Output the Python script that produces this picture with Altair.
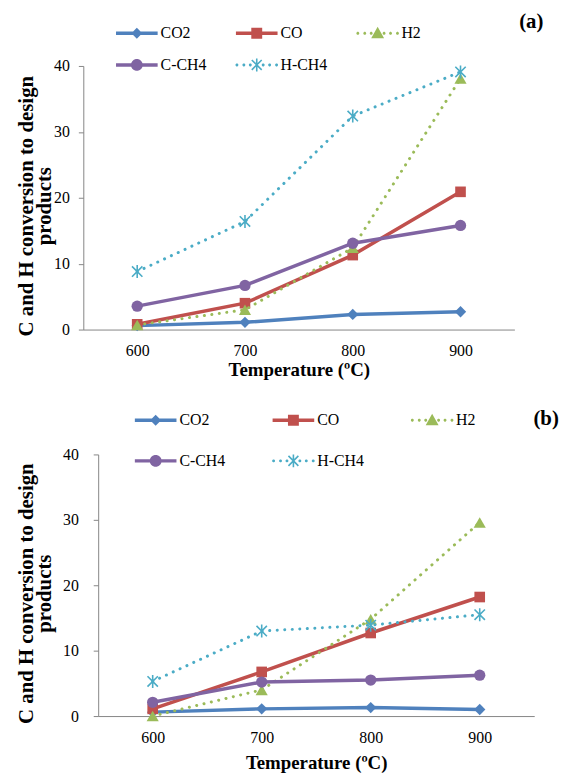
import math
import altair as alt
import pandas as pd

# ---------------- data ----------------
temps = ["600", "700", "800", "900"]
series = ["CO2", "CO", "H2", "C-CH4", "H-CH4"]

a_CO2 = [0.6, 1.1, 2.3, 2.7]
a_CO = [0.8, 4.0, 11.3, 20.9]
a_H2 = [0.7, 3.0, 12.4, 38.1]
a_CCH4 = [3.55, 6.7, 13.1, 15.8]
a_HCH4 = [8.8, 16.4, 32.4, 39.1]

b_CO2 = [0.6, 1.1, 1.3, 1.0]
b_CO = [1.1, 6.75, 12.7, 18.2]
b_H2 = [0.0, 4.0, 14.8, 29.6]
b_CCH4 = [2.1, 5.2, 5.5, 6.25]
b_HCH4 = [5.3, 13.0, 13.9, 15.5]

y_ticks = [0, 10, 20, 30, 40]

# ---------------- styles ----------------
colors = {"CO2": "#4F81BD", "CO": "#C0504D", "H2": "#9BBB59",
          "C-CH4": "#8064A2", "H-CH4": "#4BACC6"}
dotted = {"CO2": False, "CO": False, "H2": True, "C-CH4": False, "H-CH4": True}
ASTER = "M-1,-1L1,1M-1,1L1,-1M0,-1.25L0,1.25"
marker = {"CO2": ("diamond", True, 130), "CO": ("square", True, 115),
          "H2": ("triangle-up", True, 150), "C-CH4": ("circle", True, 130),
          "H-CH4": (ASTER, False, 110)}
FONT = "Liberation Serif"

# legend symbol paths (line + marker), unit box [-1,1] = 42 px
SYM = 42.0
U = SYM / 2.0


def poly(pts):
    area = sum(x1 * y2 - x2 * y1 for (x1, y1), (x2, y2) in zip(pts, pts[1:] + pts[:1]))
    if area < 0:
        pts = pts[::-1]
    return "M" + "L".join(f"{x / U:.4f},{y / U:.4f}" for x, y in pts) + "Z"


def rect(x1, y1, x2, y2, t):
    dx, dy = x2 - x1, y2 - y1
    L = math.hypot(dx, dy)
    nx, ny = -dy / L * t, dx / L * t
    return poly([(x1 + nx, y1 + ny), (x2 + nx, y2 + ny), (x2 - nx, y2 - ny), (x1 - nx, y1 - ny)])


def circ(cx, cy, r, n=18):
    return poly([(cx + r * math.cos(2 * math.pi * k / n), cy + r * math.sin(2 * math.pi * k / n))
                 for k in range(n)])


def legend_path(s):
    if dotted[s]:
        p = "".join(circ(x, 0, 1.5, 10) for x in (-20, -13, -6.5, 6.5, 13, 20))
    else:
        p = rect(-U, 0, U, 0, 1.7)
    if s == "CO2":
        h = 5.5
        p += poly([(0, -h), (h, 0), (0, h), (-h, 0)])
    elif s == "CO":
        h = 5.5
        p += poly([(-h, -h), (h, -h), (h, h), (-h, h)])
    elif s == "H2":
        p += poly([(0, -6.5), (6.5, 5), (-6.5, 5)])
    elif s == "C-CH4":
        p += circ(0, 0, 6)
    else:
        k = 5
        p += rect(-k, -k, k, k, 0.8) + rect(-k, k, k, -k, 0.8) + rect(0, -6.5, 0, 6.5, 0.8)
    return p


legend_paths = [legend_path(s) for s in series]
color_list = [colors[s] for s in series]


def panel(vals, label, width, height, x_range, y_offset, label_pad, title_x,
          xlab_pad, xtitle_pad, lx, ly, colpad, rowpad, tx, ty):
    rows = []
    for s, v in zip(series, vals):
        for t, val in zip(temps, v):
            rows.append({"temp": t, "series": s, "value": val})
    df = pd.DataFrame(rows)
    base = alt.Chart(df)

    x = alt.X("temp:O", scale=alt.Scale(domain=temps, type="point", padding=0.5, range=x_range),
              axis=alt.Axis(title="Temperature (ºC)", labelAngle=0, ticks=False,
                            domainColor="#868686", domainWidth=1,
                            labelFont=FONT, labelFontSize=16, labelColor="black",
                            labelPadding=xlab_pad, titleFont=FONT, titleFontSize=19,
                            titleFontWeight="bold", titleColor="black",
                            titlePadding=xtitle_pad))
    y = alt.Y("value:Q", scale=alt.Scale(domain=[0, 40], nice=False),
              axis=alt.Axis(values=y_ticks, grid=False, domainColor="#868686",
                            tickColor="#868686", tickSize=5, offset=y_offset,
                            labelFont=FONT, labelFontSize=16, labelColor="black",
                            labelPadding=label_pad,
                            title=["C and H conversion to design", "products"],
                            titleFont=FONT, titleFontSize=21, titleFontWeight="bold",
                            titleColor="black", titleLineHeight=18,
                            titleX=title_x, titleY=height / 2 + 8))

    layers = []
    for s in series:
        sub = base.transform_filter(alt.datum.series == s)
        if dotted[s]:
            ln = sub.mark_line(color=colors[s], strokeWidth=3, strokeDash=[0.1, 7.5],
                               strokeCap="round")
        else:
            ln = sub.mark_line(color=colors[s], strokeWidth=3.5)
        shp, filled, size = marker[s]
        if filled:
            pt = sub.mark_point(shape=shp, filled=True, size=size, color=colors[s], opacity=1)
        else:
            pt = sub.mark_point(shape=shp, filled=False, size=size, color=colors[s],
                                strokeWidth=1.6, opacity=1)
        layers += [ln.encode(x=x, y=y), pt.encode(x=x, y=y)]

    leg = alt.Legend(orient="none", legendX=lx, legendY=ly, direction="horizontal",
                     columns=3, title=None, labelFont=FONT, labelFontSize=16,
                     labelColor="black", symbolSize=SYM * SYM, symbolStrokeWidth=0,
                     symbolOpacity=1, labelOffset=3, columnPadding=colpad,
                     rowPadding=rowpad, padding=0)
    legend_layer = base.transform_filter("false").mark_point(filled=True).encode(
        x=x, y=y,
        shape=alt.Shape("series:N", scale=alt.Scale(domain=series, range=legend_paths), legend=leg),
        fill=alt.Fill("series:N", scale=alt.Scale(domain=series, range=color_list), legend=leg),
    )
    lab = alt.Chart(pd.DataFrame({"label": [label]})).mark_text(
        font=FONT, fontSize=21, fontWeight="bold", color="black", align="center",
        baseline="middle").encode(text="label:N", x=alt.value(tx), y=alt.value(ty))

    return alt.layer(*layers, legend_layer, lab).properties(width=width, height=height)


# panel (a): plot 435 px wide; panel (b): axis shifted 15 px right, 440 px of category range
chart_a = panel([a_CO2, a_CO, a_H2, a_CCH4, a_HCH4], "(a)", 435, 266,
                x_range=[0, 435], y_offset=0, label_pad=9, title_x=-47,
                xlab_pad=13, xtitle_pad=2,
                lx=33, ly=-54, colpad=28, rowpad=3, tx=452, ty=-44)
chart_b = panel([b_CO2, b_CO, b_H2, b_CCH4, b_HCH4], "(b)", 455, 264,
                x_range=[15, 455], y_offset=-15, label_pad=15, title_x=-62,
                xlab_pad=14, xtitle_pad=8,
                lx=52, ly=-55.5, colpad=46, rowpad=12, tx=467, ty=-36)

chart = alt.concat(chart_a, chart_b, columns=1, spacing=20).resolve_scale(
    shape="independent", fill="independent").resolve_legend(
    shape="independent", fill="independent").configure_view(strokeWidth=0).properties(
    padding={"left": 7, "top": 0, "right": 0, "bottom": 0})

chart.save("out.html", embed_options={"renderer": "svg", "actions": False})
